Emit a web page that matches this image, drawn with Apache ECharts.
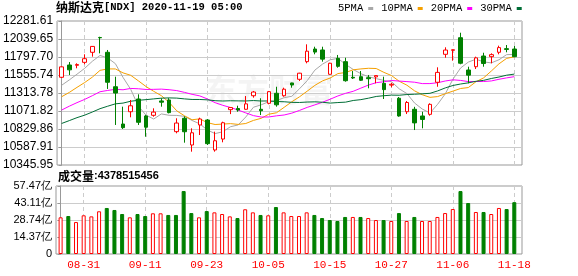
<!DOCTYPE html>
<html>
<head>
<meta charset="utf-8">
<script src="https://cdn.jsdelivr.net/npm/echarts@6/dist/echarts.min.js"></script>
<style>
html,body{margin:0;padding:0;background:#fff;}
#chart{width:578px;height:276px;}
</style>
</head>
<body>
<div id="chart"></div>
<script>
const dates = ['08-26','08-27','08-28','08-31','09-01','09-02','09-03','09-04','09-08','09-09',
  '09-10','09-11','09-14','09-15','09-16','09-17','09-18','09-21','09-22','09-23',
  '09-24','09-25','09-28','09-29','09-30','10-01','10-02','10-05','10-06','10-07',
  '10-08','10-09','10-12','10-13','10-14','10-15','10-16','10-19','10-20','10-21',
  '10-22','10-23','10-26','10-27','10-28','10-29','10-30','11-02','11-03','11-04',
  '11-05','11-06','11-09','11-10','11-11','11-12','11-13','11-16','11-17','11-18'];

const openP = [11525,11690,11686,11726,11861,12060,11861,11398,10897,11062,
  11233,11005,11014,11207,11220,10794,10974,10615,10884,10951,
  10548,10695,11090,11105,11095,11277,11095,11175,11310,11277,
  11449,11498,11735,11905,11892,11565,11780,11735,11525,11533,
  11520,11530,11444,11420,11243,11062,11095,11005,11027,11458,
  11834,11888,12057,11623,11667,11811,11802,11861,11910,11905];
const closeP = [11665,11625,11696,11775,11940,12056,11458,11313,10848,11142,
  10920,10854,11057,11190,11050,10910,10793,10779,10964,10633,
  10672,10914,11118,11085,11168,11327,11075,11332,11155,11365,
  11421,11580,11876,11864,11769,11714,11672,11479,11516,11485,
  11506,11548,11359,11431,11005,11186,10912,10958,11161,11591,
  11891,11895,11714,11554,11786,11710,11829,11924,11899,11802];
const lowP = [11515,11556,11646,11700,11802,11847,11368,10884,10830,10987,
  10884,10726,10995,11130,11040,10772,10646,10525,10749,10615,
  10525,10651,11030,11062,11090,11251,11018,11162,11130,11264,
  11385,11475,11713,11834,11735,11560,11654,11466,11502,11475,
  11377,11444,11233,11390,10995,11031,10816,10839,11009,11398,
  11788,11748,11700,11444,11636,11667,11713,11834,11861,11794];
const highP = [11672,11730,11713,11834,11945,12070,11892,11533,11130,11220,
  11296,11018,11108,11243,11244,10974,11000,10839,10982,10964,
  10794,10928,11125,11143,11273,11341,11243,11341,11398,11385,
  11452,11585,11968,11936,11936,11720,11825,11788,11609,11609,
  11556,11552,11533,11452,11260,11206,11128,11062,11175,11659,
  11928,11900,12124,11667,11802,11855,11847,11950,11959,11945];

const ma5 = [11417.6,11489.6,11566.4,11645.4,11740.2,11818.4,11785.0,11708.4,11523.0,11363.4,
  11136.2,11015.4,10964.2,11032.6,11014.2,11012.2,11000.0,10944.4,10899.2,10815.8,
  10768.2,10792.4,10860.2,10884.4,10991.4,11122.4,11154.6,11197.4,11211.4,11250.8,
  11269.6,11370.6,11479.4,11621.2,11702.0,11760.6,11779.0,11699.6,11630.0,11573.2,
  11531.6,11506.8,11482.8,11465.8,11369.8,11305.8,11178.6,11098.4,11044.4,11161.6,
  11302.6,11499.2,11650.4,11729.0,11768.0,11731.8,11718.6,11760.6,11829.6,11832.8];
const ma10 = [11263.7,11321.9,11389.6,11454.1,11527.0,11618.0,11637.3,11637.4,11584.2,11551.8,
  11477.3,11400.2,11336.3,11277.8,11188.8,11074.2,11007.7,10954.3,10965.9,10915.0,
  10890.2,10896.2,10902.3,10891.8,10903.6,10945.3,10973.5,11028.8,11047.9,11121.1,
  11196.0,11262.6,11338.4,11416.3,11476.4,11515.1,11574.8,11589.5,11625.6,11637.6,
  11646.1,11642.9,11591.2,11547.9,11471.5,11418.7,11342.7,11290.6,11255.1,11265.7,
  11304.2,11338.9,11374.4,11386.7,11464.8,11517.2,11608.9,11705.5,11779.3,11800.4];
const ma20 = [11084.7,11136.6,11184.1,11227.7,11277.7,11330.6,11348.1,11363.2,11357.2,11375.1,
  11370.5,11361.1,11363.0,11366.0,11357.9,11346.1,11322.5,11295.9,11275.1,11233.4,
  11183.8,11148.2,11119.3,11084.8,11046.2,11009.8,10990.6,10991.6,11006.9,11018.1,
  11043.1,11079.4,11120.4,11154.1,11190.0,11230.2,11274.2,11309.2,11336.8,11379.4,
  11421.1,11452.8,11464.8,11482.1,11474.0,11466.9,11458.8,11440.1,11440.4,11451.7,
  11475.2,11490.9,11482.8,11467.3,11468.2,11468.0,11475.8,11498.1,11517.2,11533.1];
const ma30 = [10904.3,10942.7,10982.4,11016.0,11058.0,11103.0,11136.3,11167.9,11178.3,11203.0,
  11215.6,11224.4,11234.8,11244.4,11248.0,11245.1,11234.6,11226.9,11226.7,11221.7,
  11210.4,11206.1,11209.4,11207.9,11206.5,11212.5,11206.2,11206.8,11199.3,11196.0,
  11187.8,11186.3,11192.3,11195.3,11189.6,11178.2,11185.3,11190.9,11213.1,11224.6,
  11244.1,11267.2,11277.3,11285.3,11283.8,11293.0,11297.0,11303.0,11309.5,11341.5,
  11382.1,11414.8,11434.7,11450.3,11470.9,11483.7,11508.8,11528.5,11553.3,11567.9];

// volume in 亿 (1e8)
const volume = [31.0,32.1,27.0,32.7,31.8,36.1,38.9,37.2,33.8,31.0,
  33.8,32.1,34.4,34.4,33.0,33.0,53.2,34.6,31.0,36.3,
  35.2,33.8,31.8,30.4,37.8,35.2,33.0,32.7,39.7,35.2,
  32.1,32.1,35.2,33.0,30.4,28.7,27.9,31.3,31.3,31.3,
  30.4,28.7,28.7,27.9,34.6,27.9,31.3,27.9,27.9,31.3,
  34.6,38.0,53.2,43.1,35.5,35.5,33.8,38.9,38.0,43.79];
const prevClose = 11466;

const priceTicks = ['10345.95','10587.91','10829.86','11071.82','11313.78','11555.74','11797.70','12039.65','12281.61'];
const volTicks = ['0','14.37亿','28.74亿','43.11亿','57.47亿'];
const labelIdx = [3,11,19,27,35,43,51,59];
const titleName = '纳斯达克';
const titleCode = '[NDX] 2020-11-19 05:00';
const volTitle = '成交量';
const volLast = '4378515456';

const PMIN = 10345.95, PMAX = 12281.61, PINT = (PMAX - PMIN) / 8;
const VMAX = 57.47, VINT = VMAX / 4;
const RED = '#ff0000', GREEN = '#008000';
const MONO = 'Liberation Mono';
const CJK = 'Noto Sans CJK SC';

const chart = echarts.init(document.getElementById('chart'), null, {renderer: 'canvas'});

const candleData = dates.map((d, i) => [i, openP[i], closeP[i], lowP[i], highP[i]]);
const volData = volume.map((v, i) => {
  const up = closeP[i] >= (i === 0 ? prevClose : closeP[i - 1]);
  return {
    value: [i, v],
    itemStyle: up ? {color: '#fff', borderColor: RED, borderWidth: 1}
                  : {color: GREEN, borderColor: GREEN, borderWidth: 1}
  };
});
const maLine = (name, arr, color) => ({
  name: name, type: 'line', xAxisIndex: 0, yAxisIndex: 0,
  data: arr.map((v, i) => [i, v]),
  symbol: 'none', smooth: false,
  lineStyle: {color: color, width: 1},
  itemStyle: {color: color},
  z: 3
});

const xBase = (grid, showLabel) => ({
  type: 'value', gridIndex: grid, min: -0.6, max: 60,
  axisLine: {show: false},
  axisTick: {show: false, customValues: labelIdx},
  axisLabel: {show: showLabel, customValues: labelIdx, formatter: v => dates[Math.round(v)],
    color: RED, fontFamily: MONO, fontSize: 11, margin: 6},
  splitLine: {show: true, lineStyle: {color: '#cccccc', type: [4, 3], width: 1}}
});

const option = {
  animation: false,
  backgroundColor: '#fff',
  title: [
    {left: 56, top: 1, padding: 0,
     text: '{a|' + titleName + '}{b|' + titleCode + '}',
     textStyle: {rich: {a: {fontFamily: CJK, fontSize: 12, color: '#000'},
                        b: {fontFamily: MONO, fontSize: 10.5, color: '#000'}}}},
    {left: 58, top: 170, padding: 0,
     text: '{a|' + volTitle + '}{b|:' + volLast + '}',
     textStyle: {rich: {a: {fontFamily: CJK, fontSize: 12, color: '#000'},
                        b: {fontFamily: 'Liberation Sans', fontSize: 11, color: '#000'}}}}
  ],
  legend: {
    left: 338, top: 3, padding: 0, itemGap: 8, itemWidth: 5, itemHeight: 3,
    icon: 'rect', align: 'right',
    data: ['5PMA', '10PMA', '20PMA', '30PMA'],
    textStyle: {fontFamily: MONO, fontSize: 10.5, color: '#000', padding: [0, 0, 0, 0]}
  },
  graphic: [{
    type: 'text', left: 205, top: 74, silent: true, z: 0,
    style: {text: '东方财富', fontFamily: CJK, fontSize: 32, fontWeight: 'bold', fill: 'rgba(0,0,0,0.045)'}
  }],
  grid: [
    {left: 56, top: 21, width: 466, height: 144, show: true, borderColor: '#999', borderWidth: 1, backgroundColor: 'transparent'},
    {left: 56, top: 186, width: 466, height: 68, show: true, borderColor: '#999', borderWidth: 1, backgroundColor: 'transparent'}
  ],
  xAxis: [xBase(0, false), xBase(1, true)],
  yAxis: [
    {type: 'value', gridIndex: 0, min: PMIN, max: PMAX, interval: PINT, scale: true,
     axisLine: {show: true, lineStyle: {color: '#999'}},
     axisTick: {show: true, length: 3, lineStyle: {color: '#999'}},
     axisLabel: {formatter: v => priceTicks[Math.round((v - PMIN) / PINT)], fontFamily: 'Liberation Sans', fontSize: 12, color: '#000', margin: 4},
     splitLine: {show: true, lineStyle: {color: '#cccccc', width: 1}}},
    {type: 'value', gridIndex: 1, min: 0, max: VMAX, interval: VINT,
     axisLine: {show: true, lineStyle: {color: '#999'}},
     axisTick: {show: true, length: 3, lineStyle: {color: '#999'}},
     axisLabel: {formatter: v => volTicks[Math.round(v / VINT)], fontFamily: 'Liberation Sans', fontSize: 11, color: '#000', margin: 4},
     splitLine: {show: true, lineStyle: {color: '#cccccc', width: 1}}}
  ],
  series: [
    {name: 'K', type: 'candlestick', xAxisIndex: 0, yAxisIndex: 0,
     data: candleData, encode: {x: 0, y: [1, 2, 3, 4]},
     barWidth: 4,
     itemStyle: {color: '#fff', color0: GREEN, borderColor: RED, borderColor0: GREEN, borderWidth: 1},
     z: 4},
    maLine('5PMA', ma5, '#a8a8a8'),
    maLine('10PMA', ma10, '#f5a000'),
    maLine('20PMA', ma20, '#ff00ff'),
    maLine('30PMA', ma30, '#006e36'),
    {name: 'VOL', type: 'bar', xAxisIndex: 1, yAxisIndex: 1, data: volData, barWidth: 4, z: 4}
  ]
};
chart.setOption(option);
</script>
</body>
</html>
